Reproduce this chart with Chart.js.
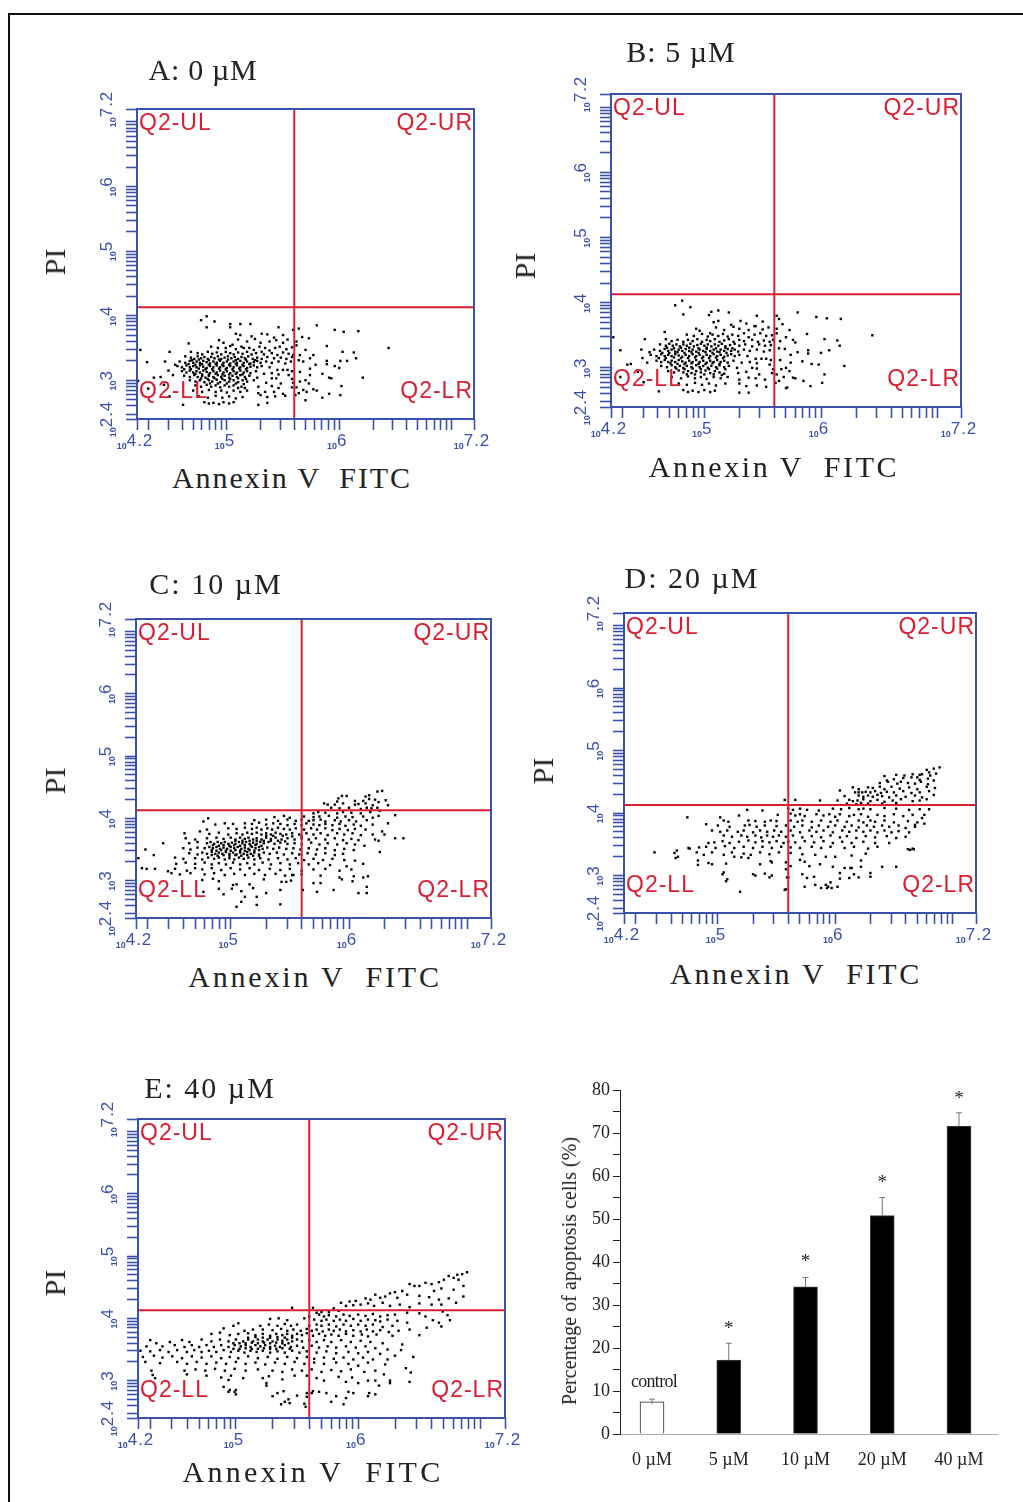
<!DOCTYPE html>
<html>
<head>
<meta charset="utf-8">
<script src="https://cdn.jsdelivr.net/npm/chart.js@4"></script>
<style>
html, body { margin: 0; padding: 0; background: #fff; }
#page { position: relative; width: 1023px; height: 1502px; overflow: hidden; }
#frame { position: absolute; left: 8px; top: 13px; width: 1020px; height: 1500px; border-left: 2px solid #111; border-top: 2px solid #111; }
canvas { position: absolute; }
.lbl { position: absolute; white-space: pre; font-family: "Liberation Serif", serif; color: #222; line-height: 1; }
</style>
</head>
<body>
<div id="page"><div id="frame"></div></div>
<script>
// flow cytometry events: log10 Annexin, log10 PI
const pointsA = [
4.82,3.99, 4.77,3.93, 4.89,3.91, 5.03,3.87, 5.12,3.87, 5.21,3.87, 4.82,3.82, 5.03,3.82, 5.46,3.82, 5.80,3.85, 5.59,3.78, 5.64,3.80,
5.96,3.78, 6.04,3.75, 6.17,3.76, 6.44,3.50, 5.89,3.53, 6.03,3.44, 6.13,3.43, 6.15,3.34, 6.07,3.30, 6.01,3.30, 5.89,3.30, 5.89,3.25,
5.96,3.22, 6.00,3.19, 6.21,3.04, 5.91,3.04, 5.93,3.03, 5.85,3.10, 6.02,2.91, 6.01,2.77, 5.91,2.79, 5.85,2.73, 5.80,2.84, 5.77,2.86, 5.70,2.69,
5.62,3.60, 5.62,3.54, 5.67,3.67, 5.73,3.65, 5.70,3.47, 5.65,3.39, 5.74,3.34, 5.77,3.39, 5.64,3.31, 5.68,3.29, 5.74,3.18, 5.79,3.24,
5.65,3.13, 5.74,3.08, 5.70,3.00, 5.65,2.98, 5.73,2.95, 5.68,2.85, 5.62,2.89, 5.64,2.80, 5.61,2.77, 5.71,2.82,
4.23,3.47, 4.29,3.28, 4.21,2.99, 4.49,3.44, 4.45,3.29, 4.41,3.05, 4.35,3.04, 4.30,2.87, 4.48,3.15, 4.44,2.93, 4.49,2.75, 4.61,2.62, 4.66,3.57, 4.54,3.24, 4.52,3.08,
5.08,3.72, 5.12,3.70, 5.22,3.68, 5.31,3.72, 5.36,3.71, 5.42,3.66, 5.50,3.70, 4.93,3.62, 5.10,3.63, 5.18,3.60, 5.25,3.64, 5.30,3.58, 5.38,3.60, 5.44,3.62, 5.50,3.58, 5.54,3.63, 4.97,3.58, 5.05,3.55,
4.86,3.52, 4.92,3.50, 4.99,3.50, 5.03,3.53, 5.08,3.48, 5.13,3.52, 5.15,3.50, 5.20,3.50, 5.24,3.47, 5.29,3.52, 5.34,3.50, 5.38,3.46, 5.43,3.50, 5.47,3.52, 5.53,3.48, 5.58,3.51,
4.68,3.44, 4.74,3.42, 4.78,3.40, 4.83,3.44, 4.87,3.41, 4.91,3.43, 4.95,3.40, 4.99,3.44, 5.03,3.42, 5.06,3.40, 5.10,3.43, 5.14,3.41, 5.18,3.44, 5.22,3.40, 5.26,3.42, 5.31,3.44, 5.33,3.40, 5.40,3.42, 5.45,3.39, 5.50,3.43, 5.55,3.41, 5.59,3.39,
4.63,3.37, 4.68,3.35, 4.71,3.33, 4.74,3.37, 4.77,3.34, 4.80,3.36, 4.83,3.33, 4.86,3.36, 4.89,3.34, 4.92,3.37, 4.95,3.33, 4.98,3.35, 5.01,3.37, 5.04,3.34, 5.07,3.36, 5.10,3.33, 5.13,3.36, 5.16,3.34, 5.19,3.37, 5.23,3.33, 5.27,3.35, 5.31,3.33, 5.36,3.36, 5.42,3.34, 5.48,3.35, 5.53,3.33, 5.58,3.36,
4.58,3.29, 4.63,3.27, 4.67,3.30, 4.70,3.27, 4.73,3.29, 4.76,3.27, 4.79,3.30, 4.82,3.28, 4.85,3.26, 4.88,3.29, 4.91,3.27, 4.94,3.30, 4.97,3.27, 5.00,3.29, 5.03,3.26, 5.06,3.29, 5.09,3.27, 5.12,3.30, 5.15,3.27, 5.18,3.29, 5.21,3.26, 5.24,3.28, 5.27,3.30, 5.30,3.27, 5.35,3.29, 5.40,3.27, 5.46,3.29, 5.52,3.26, 5.57,3.29,
4.56,3.22, 4.60,3.20, 4.64,3.23, 4.67,3.20, 4.70,3.22, 4.73,3.20, 4.76,3.23, 4.79,3.21, 4.82,3.19, 4.85,3.22, 4.88,3.20, 4.91,3.23, 4.94,3.20, 4.97,3.22, 5.00,3.19, 5.03,3.22, 5.06,3.20, 5.09,3.23, 5.12,3.20, 5.15,3.22, 5.18,3.19, 5.21,3.21, 5.24,3.23, 5.27,3.20, 5.31,3.22, 5.38,3.20, 5.45,3.16, 5.50,3.16, 5.54,3.16, 5.58,3.14,
4.60,3.14, 4.64,3.12, 4.67,3.15, 4.70,3.12, 4.73,3.14, 4.76,3.12, 4.79,3.15, 4.82,3.13, 4.85,3.11, 4.88,3.14, 4.91,3.12, 4.94,3.15, 4.97,3.12, 5.00,3.14, 5.03,3.11, 5.06,3.14, 5.09,3.12, 5.12,3.15, 5.15,3.12, 5.18,3.14, 5.21,3.11, 5.26,3.14, 5.33,3.10, 5.40,3.11, 5.46,3.09, 5.55,3.08,
4.62,3.07, 4.67,3.05, 4.71,3.08, 4.74,3.05, 4.78,3.07, 4.81,3.04, 4.84,3.07, 4.88,3.05, 4.92,3.08, 4.95,3.05, 4.98,3.07, 5.02,3.04, 5.05,3.07, 5.09,3.05, 5.12,3.08, 5.16,3.05, 5.20,3.07, 5.27,3.04, 5.40,3.03, 5.44,3.03, 5.58,3.02,
4.67,3.00, 4.72,2.98, 4.76,3.00, 4.80,2.97, 4.84,3.00, 4.87,2.98, 4.91,3.01, 4.94,2.97, 4.98,3.00, 5.02,2.98, 5.06,3.00, 5.10,2.97, 5.14,3.00, 5.18,2.98, 5.24,3.00, 5.35,2.96, 5.48,2.95, 5.59,2.96,
4.72,2.92, 4.77,2.90, 4.82,2.93, 4.86,2.90, 4.90,2.92, 4.94,2.89, 4.98,2.92, 5.02,2.90, 5.06,2.92, 5.10,2.88, 5.13,2.90, 5.16,2.88, 5.28,2.90, 5.40,2.91, 5.46,2.88, 5.58,2.89,
4.70,2.84, 4.78,2.82, 4.84,2.85, 4.90,2.82, 4.95,2.84, 5.00,2.81, 5.06,2.84, 5.12,2.82, 5.18,2.84, 5.28,2.80, 5.34,2.82, 5.42,2.82, 5.50,2.79,
4.75,2.75, 4.83,2.73, 4.90,2.76, 4.96,2.73, 5.02,2.75, 5.08,2.72, 5.14,2.74, 5.30,2.77, 5.36,2.74, 5.43,2.75, 5.52,2.76,
4.80,2.66, 4.84,2.64, 4.88,2.65, 4.93,2.63, 4.97,2.66, 5.02,2.64, 5.06,2.66, 5.28,2.62, 5.36,2.65,
4.69,3.31, 4.75,3.32, 4.84,3.31, 4.93,3.32, 5.01,3.32, 5.08,3.31, 5.17,3.32, 5.25,3.31, 4.66,3.25, 4.72,3.24, 4.78,3.25, 4.84,3.24, 4.90,3.25, 4.96,3.24, 5.02,3.24, 5.08,3.25, 5.14,3.24, 5.20,3.25,
4.62,3.17, 4.68,3.17, 4.75,3.18, 4.81,3.17, 4.87,3.17, 4.93,3.18, 4.99,3.17, 5.05,3.17, 5.11,3.18, 5.17,3.17, 4.72,3.10, 4.78,3.09, 4.84,3.09, 4.90,3.10, 4.96,3.09, 5.02,3.09, 5.08,3.10, 5.14,3.09,
4.77,3.03, 4.83,3.02, 4.89,3.03, 4.96,3.02, 5.03,3.02, 5.10,3.03, 5.17,3.02, 4.85,2.95, 4.92,2.95, 5.00,2.95, 5.08,2.95, 5.15,2.94
];
const pointsB = [
4.81,4.03, 4.75,3.96, 4.88,3.93, 5.06,3.86, 5.12,3.88, 5.21,3.85, 4.82,3.82, 5.04,3.81, 5.45,3.80, 5.80,3.85, 5.62,3.80, 5.64,3.75, 5.96,3.78, 6.05,3.76, 6.17,3.75,
6.44,3.50, 5.88,3.52, 6.03,3.44, 6.14,3.42, 6.16,3.34, 6.07,3.27, 6.00,3.23, 5.89,3.27, 5.89,3.22, 5.98,3.05, 6.20,3.03, 5.92,3.06, 5.84,3.10, 6.03,2.90, 6.01,2.77, 5.91,2.72, 5.85,2.80, 5.78,2.84, 5.76,2.85, 5.70,2.69,
5.62,3.60, 5.62,3.53, 5.67,3.67, 5.73,3.58, 5.70,3.47, 5.65,3.41, 5.76,3.43, 5.78,3.39, 5.64,3.30, 5.69,3.29, 5.74,3.20, 5.80,3.24, 5.65,3.12, 5.74,3.08, 5.70,3.00, 5.66,2.98, 5.73,2.95, 5.68,2.86, 5.62,2.90, 5.64,2.80, 5.61,2.77, 5.71,2.70,
4.22,3.47, 4.28,3.27, 4.20,3.00, 4.49,3.44, 4.46,3.28, 4.37,3.06, 4.34,3.05, 4.28,2.86, 4.47,3.15, 4.43,2.94, 4.48,2.78, 4.61,2.64, 4.66,3.55, 4.53,3.24, 4.51,3.08,
5.08,3.70, 5.12,3.72, 5.23,3.66, 5.31,3.72, 5.36,3.68, 5.43,3.64, 5.50,3.71, 4.93,3.60, 5.10,3.62, 5.17,3.58, 5.25,3.63, 5.30,3.60, 5.38,3.58, 5.44,3.64, 5.50,3.59, 5.55,3.62, 4.96,3.57, 5.05,3.53,
4.85,3.51, 4.91,3.49, 4.98,3.52, 5.03,3.48, 5.07,3.51, 5.12,3.49, 5.16,3.52, 5.20,3.48, 5.24,3.51, 5.29,3.49, 5.34,3.53, 5.38,3.47, 5.43,3.51, 5.48,3.53, 5.53,3.49, 5.58,3.50,
4.67,3.44, 4.72,3.41, 4.77,3.43, 4.82,3.40, 4.86,3.43, 4.90,3.41, 4.94,3.44, 4.98,3.40, 5.02,3.43, 5.05,3.41, 5.09,3.44, 5.13,3.40, 5.17,3.42, 5.21,3.44, 5.25,3.40, 5.30,3.43, 5.34,3.41, 5.41,3.43, 5.46,3.40, 5.51,3.42, 5.56,3.40, 5.59,3.43,
4.62,3.36, 4.67,3.34, 4.70,3.37, 4.73,3.34, 4.76,3.36, 4.79,3.33, 4.82,3.36, 4.85,3.34, 4.88,3.37, 4.91,3.33, 4.94,3.35, 4.97,3.37, 5.00,3.34, 5.03,3.36, 5.06,3.33, 5.09,3.36, 5.12,3.34, 5.15,3.37, 5.18,3.33, 5.22,3.35, 5.26,3.37, 5.30,3.34, 5.35,3.36, 5.41,3.33, 5.47,3.36, 5.52,3.34, 5.57,3.35,
4.57,3.28, 4.62,3.26, 4.66,3.29, 4.69,3.26, 4.72,3.28, 4.75,3.25, 4.78,3.28, 4.81,3.26, 4.84,3.29, 4.87,3.26, 4.90,3.28, 4.93,3.25, 4.96,3.28, 4.99,3.26, 5.02,3.29, 5.05,3.26, 5.08,3.28, 5.11,3.25, 5.14,3.28, 5.17,3.26, 5.20,3.29, 5.23,3.26, 5.26,3.28, 5.29,3.25, 5.34,3.28, 5.39,3.26, 5.45,3.28, 5.51,3.25, 5.56,3.27,
4.54,3.20, 4.59,3.18, 4.63,3.21, 4.66,3.18, 4.69,3.20, 4.72,3.18, 4.75,3.21, 4.78,3.19, 4.81,3.17, 4.84,3.20, 4.87,3.18, 4.90,3.21, 4.93,3.18, 4.96,3.20, 4.99,3.17, 5.02,3.20, 5.05,3.18, 5.08,3.21, 5.11,3.18, 5.14,3.20, 5.17,3.17, 5.20,3.19, 5.23,3.21, 5.26,3.18, 5.30,3.20, 5.37,3.18, 5.44,3.14, 5.49,3.14, 5.53,3.14, 5.57,3.12,
4.59,3.11, 4.63,3.09, 4.66,3.12, 4.69,3.09, 4.72,3.11, 4.75,3.09, 4.78,3.12, 4.81,3.10, 4.84,3.08, 4.87,3.11, 4.90,3.09, 4.93,3.12, 4.96,3.09, 4.99,3.11, 5.02,3.08, 5.05,3.11, 5.08,3.09, 5.11,3.12, 5.14,3.09, 5.17,3.11, 5.20,3.08, 5.25,3.11, 5.32,3.08, 5.39,3.09, 5.45,3.07, 5.56,3.05,
4.63,3.03, 4.68,3.01, 4.72,3.04, 4.75,3.01, 4.79,3.03, 4.82,3.00, 4.85,3.03, 4.89,3.01, 4.93,3.04, 4.96,3.01, 4.99,3.03, 5.03,3.00, 5.06,3.03, 5.10,3.01, 5.13,3.04, 5.17,3.01, 5.21,3.03, 5.28,3.00, 5.41,3.00, 5.45,2.99, 5.59,2.98,
4.69,2.95, 4.74,2.93, 4.78,2.96, 4.82,2.93, 4.86,2.95, 4.89,2.92, 4.93,2.95, 4.97,2.93, 5.01,2.96, 5.05,2.92, 5.09,2.95, 5.13,2.93, 5.17,2.91, 5.29,2.92, 5.36,2.94, 5.47,2.90, 5.58,2.92,
4.72,2.86, 4.80,2.84, 4.86,2.87, 4.92,2.84, 4.97,2.86, 5.02,2.83, 5.08,2.86, 5.14,2.84, 5.20,2.86, 5.30,2.82, 5.38,2.85, 5.44,2.84, 5.52,2.82,
4.78,2.76, 4.85,2.74, 4.92,2.77, 4.98,2.74, 5.04,2.76, 5.10,2.73, 5.18,2.76, 5.30,2.76, 5.36,2.72, 5.45,2.73, 5.53,2.71,
4.82,2.66, 4.86,2.63, 4.90,2.65, 4.95,2.63, 5.00,2.66, 5.05,2.63, 5.09,2.65, 5.30,2.62, 5.38,2.62,
4.68,3.31, 4.74,3.30, 4.80,3.31, 4.87,3.31, 4.95,3.30, 5.02,3.31, 5.10,3.30, 5.18,3.31, 5.24,3.30, 4.64,3.23, 4.70,3.23, 4.77,3.24, 4.83,3.23, 4.89,3.24, 4.95,3.23, 5.01,3.24, 5.07,3.23, 5.13,3.24, 5.19,3.23,
4.61,3.15, 4.67,3.15, 4.74,3.16, 4.80,3.15, 4.86,3.15, 4.92,3.16, 4.98,3.15, 5.04,3.15, 5.10,3.16, 5.16,3.15, 4.71,3.07, 4.77,3.06, 4.83,3.06, 4.89,3.07, 4.95,3.06, 5.01,3.06, 5.07,3.07, 5.13,3.06,
4.76,2.99, 4.83,2.98, 4.90,2.99, 4.97,2.98, 5.04,2.98, 5.11,2.99, 5.18,2.98, 4.85,2.90, 4.92,2.90, 5.00,2.90, 5.08,2.90, 5.15,2.89
];
const pointsC = [
6.24,4.43, 6.28,4.44, 6.17,4.37, 6.14,4.35, 5.98,4.36, 5.91,4.32, 5.94,4.36, 6.31,4.29, 6.22,4.30, 6.17,4.31, 6.12,4.28, 6.05,4.28, 5.90,4.27, 5.79,4.24, 5.82,4.22, 5.88,4.22, 5.95,4.24, 6.05,4.22, 6.08,4.23, 6.14,4.24, 6.20,4.21, 6.33,4.21, 6.25,4.26,
5.85,4.17, 5.92,4.16, 6.00,4.17, 6.10,4.15, 6.15,4.17, 6.19,4.16, 6.24,4.17, 6.26,4.12, 5.70,4.08, 5.74,4.10, 5.80,4.09, 5.90,4.08, 5.95,4.10, 6.02,4.09, 6.10,4.08, 6.18,4.10, 6.25,4.04, 6.39,4.05,
5.37,4.02, 5.45,4.04, 5.50,4.01, 5.62,4.03, 5.70,4.02, 5.75,4.03, 5.83,4.04, 5.90,4.01, 5.97,4.03, 6.03,4.02, 6.12,4.03, 6.20,4.01, 5.20,3.97, 5.30,3.98, 5.40,3.96, 5.48,3.98, 5.55,3.96, 5.60,3.98, 5.66,3.96, 5.70,3.97, 5.76,3.98, 5.80,3.95, 5.88,3.97, 5.93,3.95, 6.00,3.97, 6.06,3.95, 6.15,3.97, 6.33,3.92,
4.81,4.00, 4.77,3.95, 4.87,3.90, 4.95,3.92, 5.02,3.91, 5.12,3.92, 5.18,3.91, 5.24,3.93, 5.30,3.90, 5.36,3.92, 5.42,3.91, 5.48,3.89, 5.54,3.91, 5.60,3.89, 5.64,3.92, 5.70,3.90, 5.75,3.89, 5.80,3.91, 5.86,3.89, 5.92,3.91, 5.97,3.88, 6.04,3.90, 6.10,3.88, 6.20,3.90,
4.74,3.79, 4.80,3.82, 4.98,3.84, 5.05,3.83, 5.12,3.85, 5.18,3.83, 5.22,3.85, 5.26,3.82, 5.31,3.84, 5.35,3.82, 5.40,3.85, 5.45,3.83, 5.50,3.82, 5.55,3.84, 5.62,3.82, 5.68,3.84, 5.73,3.82, 5.80,3.84, 5.86,3.81, 5.92,3.83, 5.99,3.81, 6.05,3.83, 6.14,3.82, 6.28,3.79,
4.61,3.76, 4.82,3.75, 4.90,3.77, 4.98,3.74, 5.05,3.76, 5.10,3.74, 5.14,3.77, 5.18,3.75, 5.22,3.77, 5.26,3.74, 5.30,3.76, 5.34,3.74, 5.38,3.77, 5.42,3.75, 5.47,3.74, 5.52,3.76, 5.58,3.74, 5.64,3.76, 5.70,3.74, 5.76,3.76, 5.82,3.73, 5.90,3.76, 5.96,3.74, 6.03,3.76, 6.10,3.73, 6.20,3.74, 6.30,3.74, 6.46,3.68, 6.39,3.68,
4.43,3.60, 4.62,3.68, 4.70,3.66, 4.80,3.68, 4.88,3.69, 4.94,3.67, 5.00,3.69, 5.04,3.66, 5.08,3.69, 5.12,3.67, 5.15,3.69, 5.19,3.66, 5.22,3.68, 5.26,3.66, 5.30,3.69, 5.34,3.67, 5.38,3.69, 5.43,3.66, 5.48,3.68, 5.54,3.66, 5.60,3.68, 5.66,3.66, 5.72,3.68, 5.80,3.66, 5.88,3.68, 5.95,3.65, 6.02,3.67, 6.08,3.65, 6.22,3.66, 6.25,3.64,
4.65,3.60, 4.72,3.62, 4.80,3.60, 4.83,3.62, 4.86,3.59, 4.89,3.62, 4.92,3.60, 4.95,3.62, 4.98,3.59, 5.01,3.61, 5.04,3.59, 5.07,3.62, 5.10,3.60, 5.13,3.62, 5.16,3.59, 5.19,3.61, 5.22,3.59, 5.25,3.62, 5.28,3.60, 5.32,3.62, 5.37,3.59, 5.42,3.61, 5.48,3.59, 5.54,3.60, 5.60,3.58, 5.68,3.61, 5.75,3.58, 5.82,3.60, 5.90,3.58, 5.98,3.60, 6.05,3.58, 6.13,3.56,
4.60,3.52, 4.66,3.50, 4.72,3.53, 4.78,3.52, 4.82,3.54, 4.85,3.52, 4.88,3.54, 4.91,3.51, 4.94,3.53, 4.97,3.51, 5.00,3.54, 5.03,3.52, 5.06,3.54, 5.09,3.51, 5.12,3.53, 5.15,3.51, 5.18,3.54, 5.21,3.52, 5.24,3.54, 5.27,3.51, 5.31,3.53, 5.36,3.51, 5.41,3.53, 5.47,3.51, 5.53,3.52, 5.59,3.50, 5.66,3.52, 5.73,3.50, 5.80,3.52, 5.88,3.49, 5.96,3.51, 6.04,3.49, 6.26,3.46,
4.28,3.50, 4.35,3.41, 4.65,3.44, 4.72,3.42, 4.76,3.45, 4.80,3.43, 4.84,3.46, 4.87,3.43, 4.90,3.45, 4.93,3.43, 4.96,3.46, 4.99,3.43, 5.02,3.45, 5.05,3.42, 5.08,3.45, 5.11,3.43, 5.14,3.46, 5.17,3.43, 5.20,3.45, 5.24,3.42, 5.28,3.45, 5.33,3.43, 5.39,3.45, 5.45,3.42, 5.52,3.44, 5.58,3.42, 5.65,3.44, 5.72,3.42, 5.80,3.44, 5.88,3.41, 5.95,3.43,
4.22,3.36, 4.53,3.37, 4.60,3.35, 4.70,3.36, 4.76,3.34, 4.81,3.37, 4.86,3.35, 4.90,3.37, 4.95,3.34, 4.99,3.36, 5.03,3.34, 5.07,3.37, 5.11,3.35, 5.15,3.37, 5.20,3.34, 5.25,3.36, 5.32,3.34, 5.40,3.36, 5.48,3.34, 5.55,3.36, 5.62,3.33, 5.70,3.35, 5.78,3.33, 5.86,3.35, 5.96,3.33, 6.05,3.32,
4.54,3.27, 4.62,3.29, 4.70,3.27, 4.78,3.29, 4.84,3.26, 4.90,3.28, 4.96,3.26, 5.02,3.29, 5.08,3.26, 5.14,3.28, 5.20,3.26, 5.27,3.29, 5.34,3.26, 5.42,3.28, 5.50,3.26, 5.57,3.28, 5.66,3.26, 5.74,3.28, 5.84,3.25, 5.98,3.23, 6.12,3.27,
4.25,3.20, 4.29,3.19, 4.36,3.19, 4.53,3.19, 4.47,3.15, 4.63,3.16, 4.70,3.20, 4.76,3.18, 4.84,3.20, 4.92,3.17, 5.00,3.20, 5.08,3.18, 5.16,3.20, 5.24,3.17, 5.33,3.19, 5.42,3.17, 5.50,3.19, 5.60,3.16, 5.70,3.18, 5.80,3.19, 5.92,3.16, 6.02,3.18,
4.50,3.12, 4.57,3.10, 4.66,3.12, 4.78,3.10, 4.86,3.12, 4.95,3.09, 5.03,3.11, 5.12,3.09, 5.20,3.11, 5.29,3.09, 5.38,3.11, 5.46,3.08, 5.53,3.09, 5.60,3.10, 5.76,3.08, 5.92,3.05, 6.04,3.07, 6.12,3.05, 6.16,3.07,
4.76,3.01, 4.85,3.03, 4.90,2.99, 5.02,2.93, 5.05,2.94, 5.16,2.94, 5.28,3.02, 5.43,2.98, 5.47,2.98, 5.51,3.00, 5.52,3.09, 5.42,2.85, 5.61,2.85, 5.70,2.96, 5.76,2.96, 5.73,2.82, 5.87,2.85, 5.94,3.02, 6.03,2.99, 6.15,2.90, 6.15,2.80, 6.08,2.80, 4.94,2.78, 4.77,2.82,
4.90,2.87, 5.01,2.87, 5.09,2.83, 5.12,2.74, 5.05,2.58, 5.22,2.61, 5.42,2.62, 5.09,2.66, 5.22,2.74, 5.30,2.80, 5.19,2.88,
4.84,3.49, 4.88,3.48, 4.92,3.49, 4.96,3.48, 5.00,3.48, 5.04,3.49, 5.08,3.48, 5.12,3.48, 5.16,3.49, 5.20,3.48, 5.24,3.49, 4.85,3.57, 4.90,3.56, 4.94,3.57, 4.99,3.56, 5.03,3.57, 5.08,3.56, 5.12,3.57, 5.17,3.56, 5.21,3.57, 5.26,3.56,
4.84,3.41, 4.89,3.40, 4.94,3.41, 4.99,3.40, 5.04,3.41, 5.09,3.40, 5.14,3.41, 5.19,3.40, 5.24,3.40, 5.04,3.64, 5.10,3.64, 5.16,3.64, 5.22,3.64, 5.28,3.64, 5.34,3.64, 5.40,3.64, 5.46,3.63,
5.30,3.72, 5.36,3.72, 5.44,3.72, 5.52,3.71, 5.60,3.71
];
const pointsD = [
6.89,4.73, 6.84,4.71, 6.78,4.69, 6.80,4.65, 6.86,4.63, 6.72,4.61, 6.52,4.61, 6.59,4.60, 6.42,4.59, 6.66,4.62, 6.70,4.57, 6.74,4.62, 6.81,4.60, 6.65,4.57, 6.79,4.55, 6.50,4.54, 6.58,4.56, 6.44,4.52, 6.72,4.53, 6.84,4.52,
6.38,4.48, 6.45,4.50, 6.53,4.47, 6.56,4.50, 6.62,4.48, 6.68,4.47, 6.73,4.50, 6.79,4.46, 6.15,4.41, 6.20,4.38, 6.28,4.41, 6.32,4.40, 6.38,4.42, 6.42,4.38, 6.48,4.42, 6.55,4.39, 6.63,4.41, 6.70,4.38, 6.78,4.42, 6.85,4.40,
6.04,4.36, 6.17,4.33, 6.20,4.33, 6.23,4.33, 6.26,4.34, 6.30,4.33, 6.34,4.35, 6.39,4.32, 6.44,4.34, 6.50,4.33, 6.58,4.35, 6.65,4.32, 6.72,4.33, 6.80,4.35, 6.84,4.29,
6.08,4.27, 6.20,4.28, 6.24,4.26, 6.28,4.28, 6.32,4.26, 6.36,4.29, 6.40,4.27, 6.46,4.25, 6.52,4.28, 6.60,4.26, 6.68,4.28, 6.74,4.25, 5.87,4.20, 6.02,4.20, 6.12,4.21, 6.15,4.19, 6.19,4.20, 6.24,4.22, 6.30,4.19, 6.36,4.21, 6.42,4.18, 6.49,4.20, 6.56,4.22, 6.66,4.19, 6.72,4.20, 6.78,4.22,
5.57,4.21, 5.66,4.21, 6.10,4.15, 6.18,4.14, 6.22,4.16, 6.28,4.15, 6.40,4.15, 6.52,4.16,
5.25,4.05, 5.38,4.04, 5.60,4.07, 5.64,4.05, 5.70,4.07, 5.76,4.05, 5.86,4.04, 5.98,4.07, 6.05,4.06, 6.12,4.08, 6.20,4.06, 6.24,4.07, 6.30,4.06, 6.42,4.08, 6.52,4.07, 6.63,4.05, 6.72,4.06, 6.80,4.06,
5.02,3.93, 5.18,3.96, 5.51,3.97, 5.62,3.99, 5.66,3.96, 5.70,3.98, 5.74,3.95, 5.84,3.98, 5.90,3.96, 5.95,3.98, 6.00,3.94, 6.04,3.98, 6.12,3.95, 6.16,3.97, 6.22,3.98, 6.28,3.94, 6.36,3.97, 6.42,3.95, 6.50,3.98, 6.58,3.95, 6.66,3.97, 6.74,3.92, 6.76,3.97,
5.05,3.88, 5.09,3.86, 5.26,3.88, 5.32,3.87, 5.40,3.86, 5.45,3.88, 5.50,3.87, 5.62,3.88, 5.68,3.86, 5.72,3.88, 5.80,3.86, 5.88,3.88, 5.96,3.86, 6.02,3.88, 6.10,3.86, 6.20,3.88, 6.24,3.85, 6.30,3.88, 6.34,3.86, 6.42,3.88, 6.50,3.85, 6.62,3.87, 6.70,3.85, 6.76,3.83, 6.68,3.81,
5.00,3.80, 5.10,3.78, 5.23,3.80, 5.27,3.81, 5.33,3.78, 5.40,3.80, 5.50,3.79, 5.58,3.80, 5.65,3.78, 5.72,3.80, 5.80,3.77, 5.86,3.80, 5.94,3.78, 6.00,3.80, 6.08,3.78, 6.14,3.80, 6.20,3.77, 6.27,3.80, 6.33,3.78, 6.40,3.80, 6.46,3.78, 6.54,3.80, 6.60,3.76, 6.68,3.78,
4.95,3.72, 5.02,3.70, 5.08,3.72, 5.17,3.70, 5.22,3.72, 5.30,3.69, 5.36,3.72, 5.42,3.70, 5.48,3.72, 5.54,3.70, 5.62,3.72, 5.70,3.69, 5.78,3.72, 5.84,3.70, 5.90,3.72, 5.98,3.69, 6.06,3.72, 6.12,3.70, 6.18,3.72, 6.24,3.70, 6.30,3.72, 6.36,3.69, 6.42,3.72, 6.48,3.69, 6.54,3.71, 6.63,3.69,
5.05,3.64, 5.12,3.62, 5.20,3.64, 5.25,3.62, 5.32,3.64, 5.37,3.61, 5.42,3.64, 5.47,3.62, 5.52,3.64, 5.58,3.62, 5.64,3.64, 5.72,3.61, 5.80,3.63, 5.88,3.61, 5.96,3.64, 6.04,3.61, 6.10,3.63, 6.18,3.60, 6.26,3.63, 6.34,3.61, 6.44,3.63, 6.52,3.60, 6.60,3.62,
4.92,3.52, 4.97,3.53, 5.04,3.55, 5.10,3.52, 5.18,3.54, 5.26,3.56, 5.32,3.53, 5.38,3.55, 5.44,3.53, 5.50,3.55, 5.56,3.52, 5.60,3.54, 5.66,3.53, 5.74,3.55, 5.82,3.53, 5.90,3.55, 5.98,3.52, 6.06,3.54, 6.14,3.52, 6.24,3.54, 6.34,3.52, 6.46,3.52, 6.66,3.43, 6.62,3.42,
4.75,3.44, 4.84,3.45, 4.90,3.46, 4.98,3.44, 5.06,3.47, 5.14,3.44, 5.22,3.46, 5.30,3.44, 5.38,3.46, 5.46,3.44, 5.54,3.46, 5.62,3.45, 5.70,3.44, 5.80,3.46, 5.88,3.44, 5.96,3.46, 6.08,3.44, 6.16,3.46, 6.28,3.43, 6.36,3.46,
4.63,3.36, 4.64,3.28, 4.66,3.30, 4.82,3.37, 4.88,3.33, 4.95,3.37, 5.05,3.33, 5.12,3.37, 5.22,3.35, 5.28,3.33, 5.36,3.37, 5.44,3.34, 5.52,3.37, 5.62,3.36, 5.72,3.34, 5.83,3.33, 5.92,3.30, 6.00,3.30, 6.14,3.32, 6.22,3.24, 6.26,3.35,
4.83,3.24, 4.95,3.18, 4.92,3.20, 5.07,3.19, 5.14,3.30, 5.20,3.29, 5.26,3.28, 5.36,3.18, 5.45,3.23, 5.46,3.21, 5.58,3.21, 5.62,3.15, 5.70,3.25, 5.74,3.22, 5.78,3.15, 5.87,3.18, 5.98,3.14, 6.08,3.12, 6.14,3.12, 6.22,3.14, 6.40,3.14,
5.04,3.02, 5.08,2.94, 5.30,3.02, 5.40,3.03, 5.46,3.00, 5.58,3.10, 5.60,2.97, 5.58,2.78, 5.72,3.02, 5.76,2.96, 5.82,2.98, 5.88,2.80, 5.92,2.85, 5.96,2.89, 6.04,2.95, 6.02,2.82, 6.12,2.96, 6.16,3.02, 6.20,2.97, 6.30,2.98, 5.74,2.82, 5.94,2.82,
4.65,3.40, 4.76,3.43, 4.83,3.17, 5.05,3.05, 5.07,2.91, 5.19,2.74, 5.32,3.00, 5.44,2.97, 5.57,2.77, 5.59,2.97, 5.83,2.85, 5.93,2.80, 5.97,2.80, 6.04,3.04, 6.13,3.12, 6.30,3.04, 6.52,3.14, 6.64,3.41, 6.67,3.42, 4.74,3.93, 4.90,3.82, 4.46,3.37
];
const pointsE = [
6.89,4.74, 6.85,4.71, 6.81,4.70, 6.78,4.65, 6.82,4.62, 6.74,4.68, 6.70,4.62, 6.66,4.58, 6.60,4.55, 6.55,4.57, 6.50,4.52, 6.46,4.52, 6.42,4.55, 6.86,4.52, 6.78,4.46, 6.68,4.48, 6.62,4.44,
6.36,4.44, 6.30,4.42, 6.26,4.40, 6.22,4.35, 6.18,4.33, 6.14,4.38, 6.10,4.30, 6.06,4.32, 6.32,4.33, 6.40,4.38, 6.50,4.36, 6.58,4.34, 6.66,4.30, 6.74,4.32, 6.86,4.35, 6.80,4.25, 6.68,4.22, 6.60,4.22, 6.50,4.24,
5.98,4.28, 5.93,4.27, 5.86,4.25, 5.90,4.20, 5.96,4.21, 6.02,4.22, 6.08,4.24, 6.13,4.20, 6.20,4.25, 6.26,4.20, 6.34,4.22, 6.42,4.18, 5.46,4.17, 5.63,4.17, 5.80,4.16, 5.84,4.12, 5.76,4.10, 5.70,4.10, 5.66,4.09,
5.60,4.03, 5.68,4.06, 5.72,4.03, 5.76,4.05, 5.82,4.03, 5.88,4.06, 5.93,4.04, 6.00,4.06, 6.06,4.04, 6.12,4.07, 6.18,4.03, 6.24,4.05, 6.30,4.06, 6.40,4.09, 6.55,4.03, 6.73,4.05,
5.28,3.99, 5.35,4.00, 5.42,3.97, 5.56,4.00, 5.64,3.98, 5.70,3.96, 5.74,3.98, 5.80,3.96, 5.85,3.98, 5.90,3.96, 5.96,3.99, 6.02,3.96, 6.08,3.98, 6.14,3.97, 6.18,3.95, 6.24,3.98, 6.32,3.96, 6.40,3.93, 6.66,3.93,
5.02,3.92, 4.98,3.88, 5.20,3.88, 5.27,3.90, 5.34,3.88, 5.40,3.91, 5.45,3.88, 5.50,3.90, 5.60,3.88, 5.66,3.90, 5.70,3.88, 5.76,3.90, 5.82,3.87, 5.88,3.90, 5.94,3.88, 6.00,3.90, 6.06,3.88, 6.12,3.90, 6.20,3.86, 6.28,3.88, 6.42,3.82, 6.56,3.85,
4.90,3.84, 5.07,3.80, 5.14,3.82, 5.22,3.82, 5.30,3.81, 5.37,3.83, 5.42,3.80, 5.47,3.82, 5.53,3.80, 5.58,3.83, 5.62,3.80, 5.66,3.82, 5.71,3.79, 5.76,3.82, 5.80,3.80, 5.85,3.82, 5.90,3.79, 5.96,3.81, 6.02,3.79, 6.07,3.82, 6.12,3.79, 6.18,3.81, 6.25,3.78, 6.33,3.80,
4.80,3.75, 4.87,3.77, 4.95,3.73, 5.02,3.75, 5.10,3.76, 5.16,3.73, 5.22,3.75, 5.28,3.72, 5.33,3.75, 5.38,3.73, 5.42,3.75, 5.46,3.72, 5.50,3.75, 5.54,3.73, 5.58,3.76, 5.63,3.72, 5.68,3.75, 5.73,3.72, 5.78,3.74, 5.84,3.72, 5.90,3.75, 5.96,3.72, 6.03,3.74, 6.08,3.71, 6.15,3.74, 6.28,3.72,
4.30,3.65, 4.35,3.60, 4.46,3.62, 4.56,3.65, 4.62,3.62, 4.72,3.66, 4.80,3.63, 4.87,3.66, 4.94,3.63, 5.00,3.66, 5.06,3.63, 5.10,3.66, 5.14,3.63, 5.18,3.66, 5.22,3.63, 5.26,3.66, 5.30,3.63, 5.34,3.66, 5.38,3.64, 5.42,3.66, 5.46,3.63, 5.50,3.66, 5.54,3.63, 5.60,3.65, 5.66,3.62, 5.72,3.65, 5.78,3.62, 5.86,3.65, 5.94,3.62, 6.02,3.64, 6.10,3.62, 6.20,3.60, 6.36,3.58,
4.27,3.55, 4.40,3.55, 4.50,3.57, 4.58,3.54, 4.64,3.57, 4.70,3.54, 4.76,3.57, 4.82,3.54, 4.88,3.57, 4.94,3.54, 4.99,3.57, 5.04,3.55, 5.08,3.57, 5.12,3.54, 5.16,3.57, 5.20,3.55, 5.24,3.57, 5.28,3.54, 5.32,3.56, 5.36,3.54, 5.40,3.57, 5.45,3.54, 5.50,3.56, 5.55,3.53, 5.62,3.56, 5.68,3.53, 5.75,3.55, 5.82,3.53, 5.90,3.55, 5.98,3.53, 6.06,3.55, 6.14,3.52, 6.24,3.50,
4.22,3.48, 4.30,3.47, 4.38,3.49, 4.45,3.46, 4.52,3.49, 4.60,3.46, 4.66,3.49, 4.72,3.46, 4.78,3.48, 4.84,3.46, 4.90,3.49, 4.96,3.46, 5.02,3.48, 5.07,3.45, 5.12,3.48, 5.17,3.46, 5.22,3.48, 5.28,3.45, 5.34,3.47, 5.40,3.45, 5.46,3.48, 5.52,3.45, 5.58,3.47, 5.66,3.45, 5.74,3.47, 5.82,3.44, 5.92,3.46, 6.00,3.44, 6.08,3.46, 6.18,3.43, 6.30,3.40,
4.24,3.38, 4.33,3.40, 4.40,3.37, 4.48,3.39, 4.56,3.36, 4.64,3.39, 4.72,3.37, 4.80,3.39, 4.88,3.36, 4.95,3.38, 5.02,3.36, 5.10,3.39, 5.18,3.36, 5.26,3.38, 5.34,3.35, 5.42,3.38, 5.50,3.36, 5.58,3.38, 5.64,3.35, 5.72,3.37, 5.80,3.35, 5.88,3.37, 5.96,3.34, 6.04,3.37, 6.12,3.34, 6.24,3.34,
4.18,3.27, 4.26,3.30, 4.38,3.28, 4.52,3.30, 4.60,3.27, 4.68,3.30, 4.76,3.27, 4.84,3.29, 4.92,3.27, 5.00,3.30, 5.08,3.27, 5.16,3.29, 5.24,3.26, 5.32,3.29, 5.40,3.27, 5.48,3.30, 5.56,3.27, 5.64,3.29, 5.72,3.27, 5.82,3.29, 5.92,3.27, 6.00,3.24, 6.08,3.29, 6.22,3.26,
4.31,3.16, 4.58,3.16, 4.67,3.18, 4.75,3.16, 4.83,3.19, 4.91,3.16, 4.99,3.19, 5.08,3.16, 5.18,3.18, 5.30,3.16, 5.38,3.14, 5.46,3.18, 5.54,3.16, 5.62,3.18, 5.70,3.14, 5.78,3.17, 5.86,3.15, 5.94,3.18, 6.05,3.14, 6.14,3.16, 6.21,3.10,
4.76,3.08, 4.88,3.05, 4.96,3.08, 5.06,3.04, 5.22,3.04, 5.27,3.07, 5.38,3.02, 5.48,3.08, 5.58,3.08, 5.66,3.04, 5.72,3.00, 5.84,3.06, 5.90,2.98, 5.95,3.05, 6.00,2.96, 6.08,3.00, 6.14,3.00, 6.26,3.00,
4.90,2.90, 4.95,2.85, 5.00,2.78, 5.00,2.85, 5.25,2.92, 5.30,2.75, 5.40,2.66, 5.37,2.62, 5.44,2.64, 5.50,2.76, 5.56,2.63, 5.57,2.58, 5.62,2.80, 5.68,2.82, 5.74,2.80, 5.78,2.66, 5.82,2.75, 5.90,2.72, 5.96,2.80, 6.08,2.75, 6.14,2.78, 5.88,2.62,
4.32,3.09, 4.34,3.04, 4.60,3.10, 4.94,3.01, 4.99,2.82, 4.94,2.82, 5.25,2.96, 5.34,2.80, 5.39,2.83, 5.43,2.70, 5.58,2.80, 5.58,2.74, 5.63,2.83, 5.92,2.82, 6.09,2.80, 6.17,2.92, 6.26,2.96, 6.42,2.98, 6.43,3.13, 6.39,3.20, 6.45,3.38, 6.35,3.49, 6.50,3.73, 6.68,3.87, 6.75,3.97, 6.61,3.97, 6.50,4.08, 6.69,4.11,
4.98,3.60, 5.03,3.60, 5.08,3.60, 5.13,3.61, 5.18,3.60, 5.23,3.61, 5.28,3.60, 5.33,3.61, 5.38,3.60, 5.43,3.60, 4.98,3.51, 5.03,3.51, 5.08,3.52, 5.13,3.51, 5.18,3.51, 5.23,3.52, 5.28,3.51, 5.33,3.51, 5.38,3.52, 5.44,3.51, 5.10,3.69, 5.16,3.70, 5.22,3.69, 5.28,3.69, 5.34,3.70, 5.40,3.69, 5.46,3.69
];

const xDecades = [[4.2, '4.2'], [5, '5'], [6, '6'], [7.2, '7.2']];
const yDecades = [[2.4, '2.4'], [3, '3'], [4, '4'], [5, '5'], [6, '6'], [7.2, '7.2']];
const gateX = 5.6;
const gateY = 4.13;

// bar panel
const doses = ['0 µM', '5 µM', '10 µM', '20 µM', '40 µM'];
const apoptosisPct = [7.5, 17.2, 34.2, 50.8, 71.6];
const errHigh = [8.1, 21.1, 36.4, 55, 74.7];
const errLow = [7.0, 17.2, 34.2, 50.8, 71.6];
const starLevels = [null, 25.1, 40.7, 59.1, 78.6];

const BLUE = '#3b50aa';
const RED = '#d81e32';
const page = document.getElementById('page');

function addText(text, x, y, size, spacing, rotate) {
    const el = document.createElement('div');
    el.className = 'lbl';
    el.textContent = text;
    el.style.left = x + 'px';
    el.style.top = y + 'px';
    el.style.fontSize = size + 'px';
    el.style.letterSpacing = spacing + 'px';
    el.style.transform = 'translate(-50%,-50%)' + (rotate ? ' rotate(-90deg)' : '');
    page.appendChild(el);
}

function addCanvas(x, y, w, h) {
    const c = document.createElement('canvas');
    c.width = w;
    c.height = h;
    c.style.left = x + 'px';
    c.style.top = y + 'px';
    c.style.width = w + 'px';
    c.style.height = h + 'px';
    page.appendChild(c);
    return c.getContext('2d');
}

function logTicks(lo, hi) {
    const out = [{ value: Math.pow(10, lo) }, { value: Math.pow(10, hi) }];
    for (let k = Math.floor(lo); k < hi; k++) {
        for (let m = 1; m < 10; m++) {
            const v = m * Math.pow(10, k);
            if (Math.log10(v) > lo && Math.log10(v) < hi) out.push({ value: v });
        }
    }
    return out.sort((a, b) => a.value - b.value);
}

function drawPowerLabel(ctx, exp) {
    ctx.font = 'bold 9px "Liberation Sans"';
    const w10 = ctx.measureText('10').width;
    ctx.font = '17px "Liberation Sans"';
    ctx.letterSpacing = '1px';
    const wExp = ctx.measureText(exp).width;
    const start = -(w10 + wExp) / 2;
    ctx.textAlign = 'left';
    ctx.textBaseline = 'alphabetic';
    ctx.fillText(exp, start + w10, 4.5);
    ctx.letterSpacing = '0px';
    ctx.font = 'bold 9px "Liberation Sans"';
    ctx.fillText('10', start, 8);
}

const flowPlugin = {
    id: 'flowDecor',
    afterDatasetsDraw(chart) {
        const { ctx, chartArea: a, scales } = chart;
        ctx.save();
        ctx.strokeStyle = BLUE;
        ctx.lineWidth = 2;
        ctx.strokeRect(a.left, a.top, a.right - a.left, a.bottom - a.top);

        ctx.fillStyle = BLUE;
        xDecades.forEach(d => {
            ctx.save();
            ctx.translate(scales.x.getPixelForValue(Math.pow(10, d[0])) - 2, a.bottom + 22);
            drawPowerLabel(ctx, d[1]);
            ctx.restore();
        });
        yDecades.forEach(d => {
            ctx.save();
            ctx.translate(a.left - 29.5, scales.y.getPixelForValue(Math.pow(10, d[0])));
            ctx.rotate(-Math.PI / 2);
            drawPowerLabel(ctx, d[1]);
            ctx.restore();
        });

        ctx.fillStyle = RED;
        ctx.font = '23px "Liberation Sans"';
        ctx.letterSpacing = '1px';
        ctx.textBaseline = 'middle';
        ctx.textAlign = 'left';
        ctx.fillText('Q2-UL', a.left + 2, a.top + 15);
        ctx.fillText('Q2-LL', a.left + 2, a.bottom - 27);
        ctx.textAlign = 'right';
        ctx.fillText('Q2-UR', a.right - 1, a.top + 15);
        ctx.fillText('Q2-LR', a.right - 1, a.bottom - 27);
        ctx.restore();
    }
};

function flatToPoints(flat) {
    const out = [];
    for (let i = 0; i < flat.length; i += 2) {
        out.push({ x: Math.pow(10, flat[i]), y: Math.pow(10, flat[i + 1]) });
    }
    return out;
}

function drawFlowPanel(p) {
    const [L, T, R, B] = p.rect;
    const padLeft = 105, padTop = 40, padRight = 40, padBottom = 40;
    const ctx = addCanvas(L - padLeft, T - padTop, R - L + padLeft + padRight, B - T + padTop + padBottom);

    new Chart(ctx, {
        type: 'scatter',
        data: {
            datasets: [
                {
                    data: [{ x: Math.pow(10, gateX), y: Math.pow(10, 2.4) }, { x: Math.pow(10, gateX), y: Math.pow(10, 7.2) }],
                    showLine: true, borderColor: RED, borderWidth: 2, pointRadius: 0
                },
                {
                    data: [{ x: Math.pow(10, 4.2), y: Math.pow(10, gateY) }, { x: Math.pow(10, 7.2), y: Math.pow(10, gateY) }],
                    showLine: true, borderColor: RED, borderWidth: 2, pointRadius: 0
                },
                {
                    data: flatToPoints(p.points),
                    pointStyle: 'rect', pointRadius: 1.7, pointBorderWidth: 0,
                    backgroundColor: '#000', borderColor: '#000'
                }
            ]
        },
        options: {
            responsive: false,
            animation: false,
            layout: { padding: { left: 0, top: padTop, right: padRight, bottom: 0 } },
            plugins: { legend: { display: false }, tooltip: { enabled: false } },
            scales: {
                x: {
                    type: 'logarithmic', bounds: 'data',
                    min: Math.pow(10, 4.2), max: Math.pow(10, 7.2),
                    afterBuildTicks: s => { s.ticks = logTicks(4.2, 7.2); },
                    afterFit: s => { s.height = padBottom; },
                    ticks: { display: false },
                    border: { display: false },
                    grid: { drawOnChartArea: false, tickLength: 11, tickColor: BLUE, tickWidth: 1.6 }
                },
                y: {
                    type: 'logarithmic', bounds: 'data',
                    min: Math.pow(10, 2.4), max: Math.pow(10, 7.2),
                    afterBuildTicks: s => { s.ticks = logTicks(2.4, 7.2); },
                    afterFit: s => { s.width = padLeft; },
                    ticks: { display: false },
                    border: { display: false },
                    grid: { drawOnChartArea: false, tickLength: 11, tickColor: BLUE, tickWidth: 1.6 }
                }
            }
        },
        plugins: [flowPlugin]
    });

    addText(p.title, p.titleAt[0], p.titleAt[1], 30, p.titleGap);
    addText('Annexin V  FITC', p.xAt[0], p.xAt[1], 30, p.xGap);
    addText('PI', p.yAt[0], p.yAt[1], 30, 0, true);
}

const panels = [
    { title: 'A: 0 µM', points: pointsA, rect: [137, 109, 474, 419], titleAt: [203, 70], titleGap: 0.7, xAt: [292, 478], xGap: 1.9, yAt: [55, 262] },
    { title: 'B: 5 µM', points: pointsB, rect: [611, 94, 961, 407], titleAt: [681, 52], titleGap: 1, xAt: [774, 467], xGap: 2.6, yAt: [525, 266] },
    { title: 'C: 10 µM', points: pointsC, rect: [136, 619, 491, 918], titleAt: [216, 584], titleGap: 2, xAt: [315, 977], xGap: 2.8, yAt: [55, 781] },
    { title: 'D: 20 µM', points: pointsD, rect: [624, 613, 976, 913], titleAt: [692, 578], titleGap: 2, xAt: [796, 974], xGap: 2.7, yAt: [543, 771] },
    { title: 'E: 40 µM', points: pointsE, rect: [138, 1119, 505, 1418], titleAt: [210, 1088], titleGap: 2, xAt: [313, 1472], xGap: 3.3, yAt: [55, 1283] }
];
panels.forEach(drawFlowPanel);

// bar panel, bottom right
const errorPlugin = {
    id: 'errorBars',
    afterDatasetsDraw(chart) {
        const { ctx, scales } = chart;
        ctx.save();
        ctx.strokeStyle = '#777';
        ctx.lineWidth = 1;
        ctx.fillStyle = '#222';
        ctx.font = '19px "Liberation Serif"';
        ctx.textAlign = 'center';
        ctx.textBaseline = 'middle';
        doses.forEach((d, i) => {
            const x = scales.x.getPixelForValue(i);
            const hi = scales.y.getPixelForValue(errHigh[i]);
            const lo = scales.y.getPixelForValue(errLow[i]);
            ctx.beginPath();
            ctx.moveTo(x, lo);
            ctx.lineTo(x, hi);
            ctx.moveTo(x - 3, hi);
            ctx.lineTo(x + 3, hi);
            ctx.stroke();
            if (starLevels[i] !== null) {
                ctx.fillText('*', x, scales.y.getPixelForValue(starLevels[i]) + 3);
            }
        });
        ctx.font = '18px "Liberation Serif"';
        ctx.letterSpacing = '-0.7px';
        ctx.fillText('control', scales.x.getPixelForValue(0) + 2, scales.y.getPixelForValue(12.1));
        ctx.restore();
    }
};

new Chart(addCanvas(550, 1070, 460, 410), {
    type: 'bar',
    data: {
        datasets: [{
            data: apoptosisPct.map((v, i) => ({ x: i, y: v })),
            backgroundColor: ['#fff', '#000', '#000', '#000', '#000'],
            borderColor: ['#222', '#444', '#444', '#444', '#444'],
            borderWidth: 1,
            barThickness: 24
        }]
    },
    options: {
        responsive: false,
        animation: false,
        layout: { padding: { left: 0, top: 20, right: 13, bottom: 0 } },
        plugins: { legend: { display: false }, tooltip: { enabled: false } },
        scales: {
            x: {
                type: 'linear', offset: false, min: -0.417, max: 4.495,
                afterBuildTicks: s => { s.ticks = doses.map((d, i) => ({ value: i })); },
                afterFit: s => { s.height = 46; },
                border: { color: '#aaa', width: 1 },
                grid: { display: false },
                ticks: {
                    autoSkip: false, maxRotation: 0, padding: 7, color: '#222',
                    font: { family: '"Liberation Serif"', size: 18 },
                    callback: v => doses[v]
                }
            },
            y: {
                min: 0, max: 80,
                afterFit: s => { s.width = 70; },
                border: { color: '#222', width: 1 },
                grid: { drawOnChartArea: false, tickLength: 7, tickColor: '#222', tickWidth: 1 },
                ticks: {
                    stepSize: 5, padding: 3, color: '#222', autoSkip: false,
                    font: { family: '"Liberation Serif"', size: 18 },
                    callback: v => (v % 10 === 0 ? v : '')
                }
            }
        }
    },
    plugins: [errorPlugin]
});
addText('Percentage of apoptosis cells (%)', 569, 1271, 20, 0.05, true);
</script>
</body>
</html>
